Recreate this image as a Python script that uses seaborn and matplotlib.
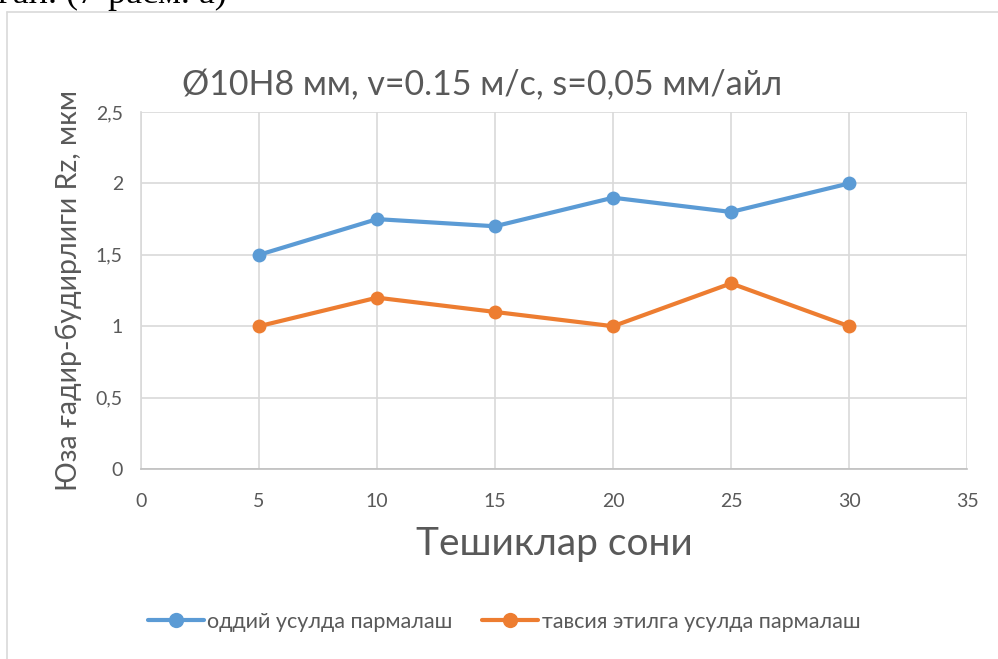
import matplotlib
matplotlib.use("Agg")
import matplotlib.pyplot as plt
from matplotlib.lines import Line2D
import seaborn as sns
import pandas as pd

# Data
holes = [5, 10, 15, 20, 25, 30]
rz_plain = [1.5, 1.75, 1.7, 1.9, 1.8, 2.0]
rz_recommended = [1.0, 1.2, 1.1, 1.0, 1.3, 1.0]
series_names = ["оддий усулда пармалаш", "тавсия этилга усулда пармалаш"]
y_ticks = [0, 0.5, 1, 1.5, 2, 2.5]
y_tick_labels = ["0", "0,5", "1", "1,5", "2", "2,5"]
x_ticks = [0, 5, 10, 15, 20, 25, 30, 35]

title = "Ø10H8 мм, v=0.15 м/с, s=0,05 мм/айл"
x_label = "Тешиклар сони"
y_label = "Юза ғадир-будирлиги Rz, мкм"

df = pd.DataFrame({
    "x": holes * 2,
    "y": rz_plain + rz_recommended,
    "series": [series_names[0]] * len(holes) + [series_names[1]] * len(holes),
})

sns.set_theme(style="white")
plt.rcParams["font.family"] = ["Lato", "DejaVu Sans"]

text_color = "#595959"
grid_color = "#d9d9d9"
palette = {series_names[0]: "#5B9BD5", series_names[1]: "#ED7D31"}

fig = plt.figure(figsize=(9.98, 6.59), dpi=100)
fig.patch.set_facecolor("white")
ax = fig.add_axes([0.1413, 0.2883, 0.8277, 0.5417])

sns.lineplot(data=df, x="x", y="y", hue="series", palette=palette,
             marker="o", markersize=10, markeredgewidth=0, linewidth=3,
             ax=ax, legend=False, zorder=3)

ax.set_xlim(0, 35)
ax.set_ylim(0, 2.5)
ax.set_xticks(x_ticks)
ax.set_xticklabels([str(t) for t in x_ticks])
ax.set_yticks(y_ticks)
ax.set_yticklabels(y_tick_labels)
ax.tick_params(axis="both", length=0, labelsize=14, labelcolor=text_color)
ax.tick_params(axis="x", pad=17)
ax.tick_params(axis="y", pad=13)

ax.grid(True, color=grid_color, linewidth=1.2, zorder=0)
for side in ["top", "right"]:
    ax.spines[side].set_visible(False)
ax.spines["left"].set_color(grid_color)
ax.spines["left"].set_linewidth(1.2)
ax.spines["bottom"].set_color("#bfbfbf")
ax.spines["bottom"].set_linewidth(1.2)

ax.set_xlabel(x_label, fontsize=28, color=text_color, labelpad=12)
ax.set_ylabel(y_label, fontsize=20.5, color=text_color, labelpad=10)

fig.text(0.483, 1 - 85 / 659, title, fontsize=24.5, color=text_color,
         ha="center", va="center")

handles = [Line2D([0], [0], color=palette[n], linewidth=3, marker="o",
                  markersize=11, markeredgewidth=0) for n in series_names]
fig.legend(handles, series_names, loc="center", ncol=2, frameon=False,
           bbox_to_anchor=(0.505, 1 - 622 / 659), fontsize=15.5,
           labelcolor=text_color, handlelength=2.6, handletextpad=0.15,
           columnspacing=1.4)

# chart frame and the page text above it
fig.add_artist(Line2D([7 / 998, 7 / 998], [0, 1 - 12 / 659],
                      transform=fig.transFigure, color=grid_color, linewidth=1.2))
fig.add_artist(Line2D([7 / 998, 1], [1 - 12 / 659, 1 - 12 / 659],
                      transform=fig.transFigure, color=grid_color, linewidth=1.2))
fig.text(-0.002, 1 - 3 / 659, "ган. (7-расм. а)", family="Liberation Serif",
         fontsize=26, color="black", ha="left", va="baseline")

fig.savefig("out.png", dpi=100, facecolor="white")
